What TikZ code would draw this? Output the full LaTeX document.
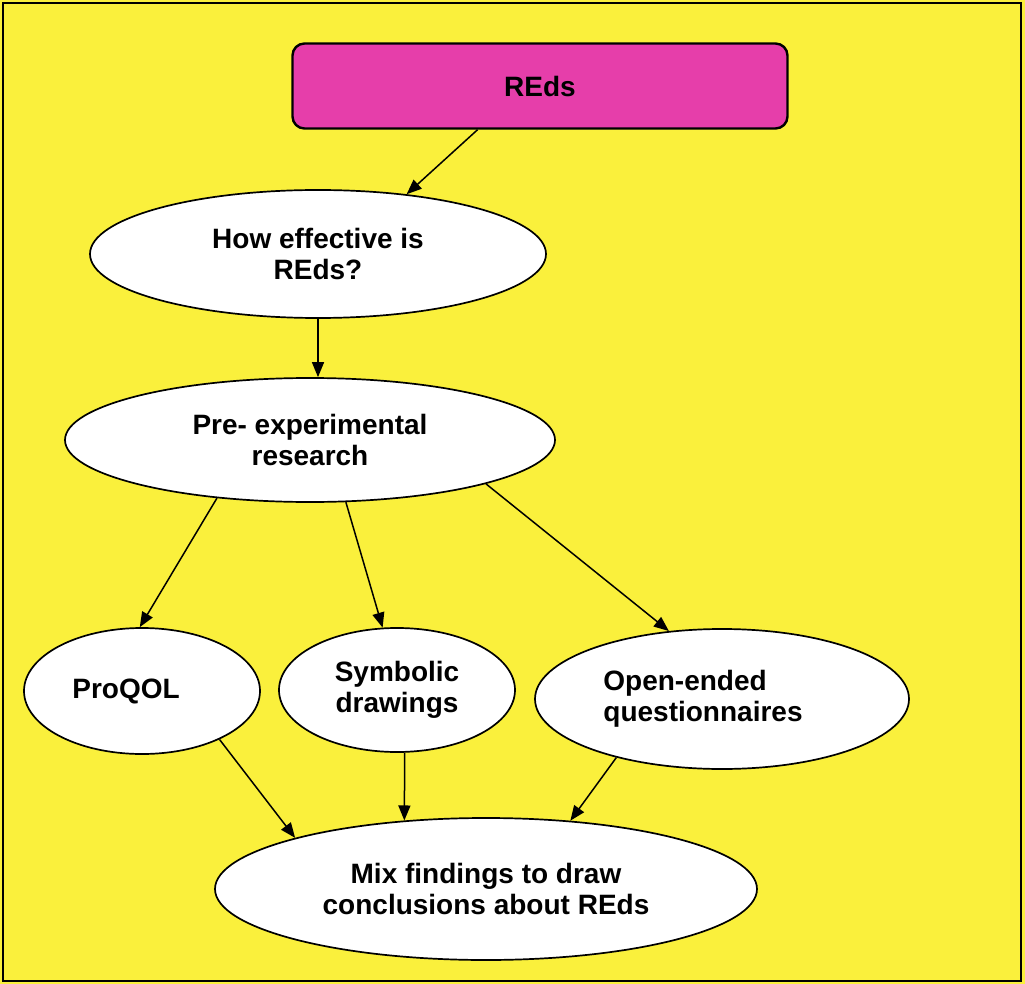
\documentclass[tikz,border=0pt]{standalone}
\usepackage{fontspec}
\setmainfont{Liberation Sans}
\usetikzlibrary{shapes.geometric, arrows.meta}
\definecolor{pageyellow}{RGB}{250,240,60}
\definecolor{boxmagenta}{RGB}{230,62,170}
\begin{document}
\begin{tikzpicture}[x=1pt, y=-1pt, font=\bfseries\fontsize{28}{31}\selectfont]
  \tikzset{
    topbox/.style={draw, line width=2.4pt, rounded corners=12pt, fill=boxmagenta,
      minimum width=495pt, minimum height=85pt, inner sep=0pt},
    bubble/.style={draw, line width=1.7pt, ellipse, fill=white, inner sep=0pt, align=center},
    flow/.style={line width=1.5pt, -{Triangle[length=15pt, width=12pt]}}
  }
  % ---- page and frame ----
  \useasboundingbox (0,0) rectangle (1025,984);
  \fill[pageyellow] (0,0) rectangle (1025,984);
  \draw[line width=2pt] (3,3) rectangle (1021,981);
  % ---- boxes ----
  \node[topbox] (reds) at (540,86) {REds};
  \node[bubble, minimum width=456pt, minimum height=128pt] (how) at (318,254) {How effective is\\REds?};
  \node[bubble, minimum width=490pt, minimum height=124pt] (pre) at (310,440) {Pre- experimental\\research};
  \node[bubble, minimum width=236pt, minimum height=126pt] (proqol) at (142,691) {ProQOL\hspace*{32pt}};
  \node[bubble, minimum width=236pt, minimum height=124pt] (symb) at (397,690) {Symbolic\\drawings};
  \node[bubble, align=left, minimum width=374pt, minimum height=140pt] (open) at (722,699) {Open-ended\\questionnaires\hspace*{38pt}};
  \node[bubble, minimum width=542pt, minimum height=142pt] (mix) at (486,889) {Mix findings to draw\\conclusions about REds};
  % ---- arrows ----
  \draw[flow] (how.south) -- (how.south |- pre.north);
  \foreach \a/\b in {reds.215/how.34, pre.212/proqol.92, pre.300/symb.103, pre.346/open.128,
    proqol.328/mix.165, symb.277/mix.140, open.209/mix.39} {
    \draw[flow] (\a) -- (\b);
  }
\end{tikzpicture}
\end{document}
